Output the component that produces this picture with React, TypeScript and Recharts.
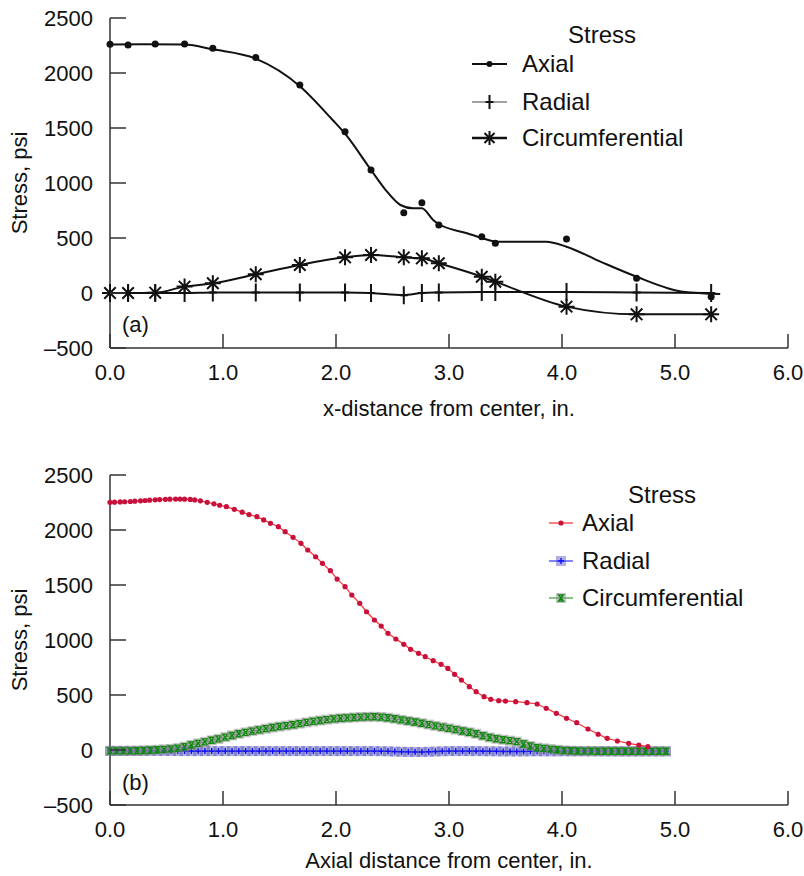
import React from 'react';
import { ComposedChart, Line, XAxis, YAxis, Legend, Label } from 'recharts';

// (a) measured points, x-distance from center (in.)
const measuredX = [0.0, 0.16, 0.4, 0.66, 0.91, 1.29, 1.68, 2.08, 2.31, 2.6, 2.76, 2.91, 3.29, 3.41, 4.04, 4.66, 5.32];
const measuredAxial = [2261, 2254, 2263, 2263, 2224, 2142, 1891, 1466, 1118, 730, 821, 618, 512, 452, 491, 134, -33];
const measuredRadial = [0, 0, 0, 0, 5, 5, 5, 5, 0, -20, 0, 5, 10, 10, 10, 5, 0];
const measuredCircum = [0, 0, 3, 58, 88, 170, 255, 324, 345, 324, 315, 270, 148, 103, -124, -194, -194];

// (a) smoothed axial curve drawn through the measured points
const axialFitX = [0.0, 0.3, 0.66, 0.91, 1.29, 1.68, 1.97, 2.08, 2.31, 2.44, 2.57, 2.68, 2.76, 2.86, 2.91, 3.16, 3.29, 3.42, 3.86, 4.04, 4.34, 4.66, 5.07, 5.4];
const axialFitY = [2260, 2262, 2258, 2215, 2130, 1880, 1573, 1448, 1118, 936, 800, 770, 770, 664, 627, 543, 500, 467, 467, 421, 285, 148, 12, -9];

// (b) model results, axial distance from center (in.)
const modelAxialX = [
  0.0, 0.04, 0.09, 0.13, 0.18, 0.22, 0.27, 0.31, 0.35, 0.4,
  0.44, 0.49, 0.53, 0.58, 0.62, 0.66, 0.71, 0.75, 0.8, 0.86,
  0.92, 0.97, 1.03, 1.1, 1.17, 1.23, 1.3, 1.36, 1.42, 1.49,
  1.55, 1.62, 1.69, 1.75, 1.82, 1.88, 1.95, 2.01, 2.08, 2.14,
  2.21, 2.27, 2.34, 2.4, 2.46, 2.53, 2.6, 2.66, 2.73, 2.79,
  2.86, 2.93, 2.99, 3.05, 3.11, 3.18, 3.24, 3.31, 3.37, 3.44,
  3.5, 3.59, 3.69, 3.78, 3.86, 3.95, 4.04, 4.13, 4.23, 4.32,
  4.4, 4.49, 4.59, 4.68, 4.76,
];
const modelAxial = [
  2252, 2253, 2255, 2257, 2259, 2262, 2265, 2268, 2271, 2274,
  2277, 2279, 2280, 2281, 2281, 2280, 2278, 2273, 2265, 2252,
  2238, 2225, 2212, 2188, 2162, 2140, 2121, 2092, 2061, 2030,
  1985, 1933, 1879, 1818, 1757, 1697, 1630, 1554, 1485, 1409,
  1333, 1257, 1182, 1127, 1061, 1009, 961, 915, 879, 848,
  812, 779, 742, 688, 636, 576, 530, 485, 461, 448,
  445, 439, 430, 418, 379, 333, 288, 248, 191, 143,
  106, 82, 61, 45, 30,
];
const modelX = [
  0.0, 0.06, 0.12, 0.18, 0.24, 0.3, 0.36, 0.42, 0.48, 0.54,
  0.6, 0.66, 0.72, 0.78, 0.84, 0.9, 0.96, 1.02, 1.08, 1.14,
  1.2, 1.26, 1.32, 1.38, 1.44, 1.5, 1.56, 1.62, 1.68, 1.74,
  1.8, 1.86, 1.92, 1.98, 2.04, 2.1, 2.16, 2.22, 2.28, 2.34,
  2.4, 2.46, 2.52, 2.58, 2.64, 2.7, 2.76, 2.82, 2.88, 2.94,
  3.0, 3.06, 3.12, 3.18, 3.24, 3.3, 3.36, 3.42, 3.48, 3.54,
  3.6, 3.66, 3.72, 3.78, 3.84, 3.9, 3.96, 4.02, 4.08, 4.14,
  4.2, 4.26, 4.32, 4.38, 4.44, 4.5, 4.56, 4.62, 4.68, 4.74,
  4.8, 4.86, 4.92,
];
const modelRadial = [
  -8, -8, -8, -8, -8, -8, -8, -8, -9, -9,
  -10, -10, -10, -10, -10, -10, -10, -10, -10, -10,
  -10, -10, -10, -10, -10, -10, -10, -10, -10, -10,
  -10, -10, -10, -10, -10, -10, -10, -10, -10, -10,
  -11, -12, -14, -16, -17, -18, -18, -16, -14, -12,
  -10, -10, -10, -10, -10, -11, -12, -12, -13, -13,
  -13, -13, -12, -12, -12, -12, -12, -12, -12, -12,
  -12, -12, -12, -12, -12, -12, -12, -12, -12, -12,
  -12, -12, -12,
];
const modelCircum = [
  -8, -8, -8, -8, -7, -5, -2, 2, 6, 10,
  17, 30, 46, 60, 74, 88, 101, 117, 132, 148,
  160, 172, 183, 194, 204, 213, 222, 230, 240, 251,
  260, 268, 276, 283, 288, 292, 296, 299, 301, 302,
  299, 293, 284, 274, 264, 254, 243, 231, 219, 208,
  197, 185, 173, 161, 148, 130, 114, 102, 93, 85,
  76, 55, 36, 21, 15, 8, 2, -4, -7, -9,
  -10, -10, -11, -11, -12, -12, -12, -12, -12, -12,
  -12, -12, -12,
];

const seriesNames = ['Axial', 'Radial', 'Circumferential'];
const xTicks = [0, 1, 2, 3, 4, 5, 6];
const yTicks = [-500, 0, 500, 1000, 1500, 2000, 2500];

const AXIS = '#333';
const INK = '#111';
const FONT = '"Liberation Sans", Arial, sans-serif';

const pts = (xs: number[], ys: number[]) => xs.map((x, i) => ({ x, y: ys[i] }));

const fmtY = (v: number) => (v < 0 ? `\u2013${Math.abs(v)}` : `${v}`);

// ticks point into the plot
const XTick = (props: any) => {
  const { x, y, payload } = props;
  return (
    <g>
      <line x1={x} x2={x} y1={y} y2={y - 14} stroke={AXIS} strokeWidth={1.5} />
      <text x={x} y={y + 32} textAnchor="middle" fontSize={22} fill={INK}>
        {Number(payload.value).toFixed(1)}
      </text>
    </g>
  );
};

const YTick = (props: any) => {
  const { x, y, payload } = props;
  return (
    <g>
      <line x1={x} x2={x + 16} y1={y} y2={y} stroke={AXIS} strokeWidth={1.5} />
      <text x={x - 17} y={y + 8} textAnchor="end" fontSize={22} fill={INK}>
        {fmtY(payload.value)}
      </text>
    </g>
  );
};

const yTitle = (props: any) => {
  const vb = props.viewBox;
  const cy = vb.y + vb.height / 2;
  return (
    <text x={19} y={cy} transform={`rotate(-90 19 ${cy})`} textAnchor="middle" dominantBaseline="central" fontSize={22} fill={INK}>
      Stress, psi
    </text>
  );
};

const xTitle = (text: string, off: number) => (props: any) => {
  const vb = props.viewBox;
  return (
    <text x={vb.x + vb.width / 2} y={vb.y + off} textAnchor="middle" fontSize={22} fill={INK}>
      {text}
    </text>
  );
};

// markers for (a)
const dotMark = (cx: number, cy: number, r = 3.5) => <circle cx={cx} cy={cy} r={r} fill={INK} />;
const plusMark = (cx: number, cy: number, h = 9) => (
  <path d={`M${cx},${cy - h}V${cy + h}M${cx - 4},${cy}H${cx + 4}`} stroke={INK} strokeWidth={2} fill="none" />
);
const starMark = (cx: number, cy: number, r = 8) => {
  const d = r * 0.72;
  return (
    <path
      d={`M${cx - r},${cy}H${cx + r}M${cx},${cy - r}V${cy + r}M${cx - d},${cy - d}L${cx + d},${cy + d}M${cx - d},${cy + d}L${cx + d},${cy - d}`}
      stroke={INK}
      strokeWidth={2}
      fill="none"
    />
  );
};

// markers for (b)
const redMark = (cx: number, cy: number) => <circle cx={cx} cy={cy} r={2.6} fill="#c8103c" />;
const blueMark = (cx: number, cy: number) => (
  <g>
    <rect x={cx - 5} y={cy - 5} width={10} height={10} fill="#3c3cb4" fillOpacity={0.4} />
    <path d={`M${cx},${cy - 3}V${cy + 3}M${cx - 3},${cy}H${cx + 3}`} stroke="#1010ff" strokeWidth={1.4} />
  </g>
);
const greenMark = (cx: number, cy: number) => (
  <g>
    <rect x={cx - 5} y={cy - 5} width={10} height={10} fill="#8c8c8c" fillOpacity={0.5} />
    <path d={`M${cx - 2.5},${cy - 3}H${cx + 2.5}L${cx - 2.5},${cy + 3}H${cx + 2.5}Z`} stroke="#0c8a0c" strokeWidth={1.4} fill="none" />
  </g>
);

const dotWith = (fn: (cx: number, cy: number) => React.ReactElement, tag: string) => (p: any) => {
  if (p.cx == null || p.cy == null) return <g key={`${tag}-${p.index}`} />;
  return <g key={`${tag}-${p.index}`}>{fn(p.cx, p.cy)}</g>;
};

const LegendA = () => {
  const rows = [32, 70, 106];
  const icons = [
    <g><line x1={0} x2={35} y1={14} y2={14} stroke={INK} strokeWidth={2} />{dotMark(17.5, 14, 3)}</g>,
    <g><line x1={0} x2={35} y1={14} y2={14} stroke="#444" strokeWidth={1.2} />{plusMark(17.5, 14, 7)}</g>,
    <g><line x1={0} x2={35} y1={14} y2={14} stroke={INK} strokeWidth={2.5} />{starMark(17.5, 14, 7)}</g>,
  ];
  return (
    <div style={{ position: 'relative', width: 260, height: 140, fontSize: 24, color: INK, fontFamily: FONT }}>
      <div style={{ position: 'absolute', left: 103, top: 3, lineHeight: '28px' }}>Stress</div>
      {seriesNames.map((name, i) => (
        <React.Fragment key={name}>
          <svg style={{ position: 'absolute', left: 7, top: rows[i] }} width={35} height={28}>
            {icons[i]}
          </svg>
          <div style={{ position: 'absolute', left: 57, top: rows[i], lineHeight: '28px', whiteSpace: 'nowrap' }}>{name}</div>
        </React.Fragment>
      ))}
    </div>
  );
};

const LegendB = () => {
  const rows = [34, 72, 109];
  const icons = [
    <g><line x1={0} x2={24} y1={14} y2={14} stroke="#ff3030" strokeWidth={1.2} />{redMark(12, 14)}</g>,
    <g><line x1={0} x2={24} y1={14} y2={14} stroke="#3030ff" strokeWidth={1.2} />{blueMark(12, 14)}</g>,
    <g><line x1={0} x2={24} y1={14} y2={14} stroke="#2ca02c" strokeWidth={1.2} />{greenMark(12, 14)}</g>,
  ];
  return (
    <div style={{ position: 'relative', width: 250, height: 140, fontSize: 24, color: INK, fontFamily: FONT }}>
      <div style={{ position: 'absolute', left: 83, top: 6, lineHeight: '28px' }}>Stress</div>
      {seriesNames.map((name, i) => (
        <React.Fragment key={name}>
          <svg style={{ position: 'absolute', left: 4, top: rows[i] }} width={24} height={28}>
            {icons[i]}
          </svg>
          <div style={{ position: 'absolute', left: 37, top: rows[i], lineHeight: '28px', whiteSpace: 'nowrap' }}>{name}</div>
        </React.Fragment>
      ))}
    </div>
  );
};

export default function App() {
  const axisCommon = {
    tickSize: 0,
    tickMargin: 0,
    tickLine: false,
    axisLine: { stroke: AXIS, strokeWidth: 1.5 },
    interval: 0 as const,
  };
  return (
    <div style={{ position: 'absolute', left: 0, top: 0, width: 804, height: 876, background: '#fff', fontFamily: FONT }}>
      <div style={{ position: 'absolute', left: 0, top: 0 }}>
        <ComposedChart width={804} height={440} margin={{ top: 18, right: 16, left: 0, bottom: 0 }}>
          <XAxis type="number" dataKey="x" domain={[0, 6]} ticks={xTicks} height={92} tick={<XTick />} {...axisCommon}>
            <Label content={xTitle('x-distance from center, in.', 68)} />
          </XAxis>
          <YAxis type="number" domain={[-500, 2500]} ticks={yTicks} width={110} tick={<YTick />} {...axisCommon}>
            <Label content={yTitle} />
          </YAxis>
          <Line
            data={pts(axialFitX, axialFitY)}
            dataKey="y"
            type="monotone"
            stroke={INK}
            strokeWidth={2}
            dot={false}
            isAnimationActive={false}
          />
          <Line
            data={pts(measuredX, measuredAxial)}
            dataKey="y"
            stroke="none"
            dot={dotWith((cx, cy) => dotMark(cx, cy), 'ax')}
            isAnimationActive={false}
          />
          <Line
            data={pts(measuredX, measuredRadial)}
            dataKey="y"
            type="monotone"
            stroke={INK}
            strokeWidth={2}
            dot={dotWith((cx, cy) => plusMark(cx, cy), 'ra')}
            isAnimationActive={false}
          />
          <Line
            data={pts(measuredX, measuredCircum)}
            dataKey="y"
            type="monotone"
            stroke={INK}
            strokeWidth={2}
            dot={dotWith((cx, cy) => starMark(cx, cy), 'ci')}
            isAnimationActive={false}
          />
          <Legend
            content={<LegendA />}
            layout="vertical"
            align="center"
            verticalAlign="middle"
            wrapperStyle={{ left: 465, top: 18, width: 260, height: 140 }}
          />
        </ComposedChart>
        <div style={{ position: 'absolute', left: 122, top: 312, fontSize: 22, lineHeight: '26px', color: INK }}>(a)</div>
      </div>

      <div style={{ position: 'absolute', left: 0, top: 440 }}>
        <ComposedChart width={804} height={436} margin={{ top: 35, right: 16, left: 0, bottom: 0 }}>
          <XAxis type="number" dataKey="x" domain={[0, 6]} ticks={xTicks} height={71} tick={<XTick />} {...axisCommon}>
            <Label content={xTitle('Axial distance from center, in.', 63)} />
          </XAxis>
          <YAxis type="number" domain={[-500, 2500]} ticks={yTicks} width={110} tick={<YTick />} {...axisCommon}>
            <Label content={yTitle} />
          </YAxis>
          <Line
            data={pts(modelX, modelRadial)}
            dataKey="y"
            stroke="#3030ff"
            strokeWidth={1.2}
            dot={dotWith(blueMark, 'br')}
            isAnimationActive={false}
          />
          <Line
            data={pts(modelX, modelCircum)}
            dataKey="y"
            stroke="#2ca02c"
            strokeWidth={1.2}
            dot={dotWith(greenMark, 'bc')}
            isAnimationActive={false}
          />
          <Line
            data={pts(modelAxialX, modelAxial)}
            dataKey="y"
            stroke="#ff3030"
            strokeWidth={1.2}
            dot={dotWith(redMark, 'ba')}
            isAnimationActive={false}
          />
          <Legend
            content={<LegendB />}
            layout="vertical"
            align="center"
            verticalAlign="middle"
            wrapperStyle={{ left: 545, top: 35, width: 250, height: 140 }}
          />
        </ComposedChart>
        <div style={{ position: 'absolute', left: 122, top: 330, fontSize: 22, lineHeight: '26px', color: INK }}>(b)</div>
      </div>
    </div>
  );
}
